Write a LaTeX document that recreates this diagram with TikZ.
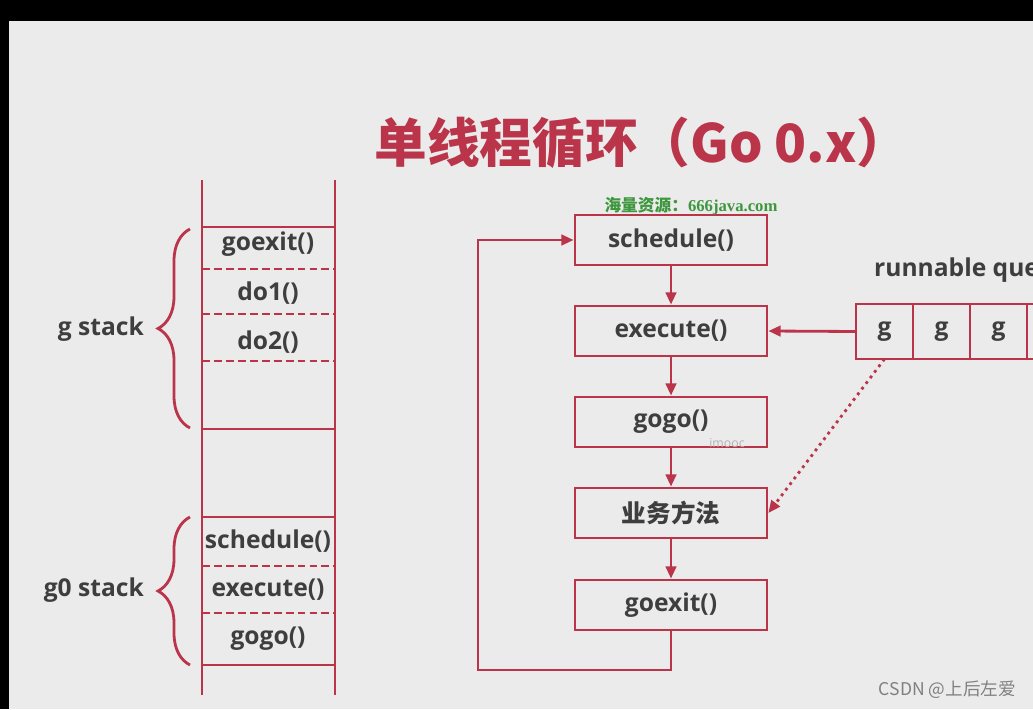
\documentclass[tikz,border=0pt]{standalone}
\usepackage{fontspec}
\setmainfont{Open Sans}
\newfontfamily\cjk{Noto Sans CJK SC}
\newfontfamily\wmserif{Liberation Serif}
\usetikzlibrary{arrows.meta,decorations.pathreplacing}

\definecolor{gored}{RGB}{186,52,74}
\definecolor{gotext}{RGB}{62,62,62}
\definecolor{gobg}{RGB}{235,235,235}
\definecolor{gogreen}{RGB}{62,150,62}

\tikzset{
  redline/.style={draw=gored, line width=1.6pt},
  flowbox/.style={redline, minimum width=3.84cm, minimum height=1cm, inner sep=0pt,
    font=\bfseries\fontsize{14}{16}\selectfont, text=gotext},
  qcell/.style={redline, minimum width=1.14cm, minimum height=1.1cm, inner sep=0pt,
    outer sep=0pt, font=\bfseries\fontsize{14}{16}\selectfont, text=gotext},
  stacktext/.style={font=\bfseries\fontsize{14}{16}\selectfont, text=gotext},
  stacksep/.style={draw=gored, line width=1.1pt, dash pattern=on 4.5pt off 2.3pt},
  arr/.style={redline, -{Triangle[length=7pt, width=6pt]}},
  stackbrace/.style={draw=gored, line width=1.6pt, decorate,
    decoration={brace, amplitude=0.64cm}},
}

\begin{document}
\begin{tikzpicture}[x=0.02cm, y=-0.02cm]
        % Pozadí
        \useasboundingbox (0,0) rectangle (1033,709);
        \clip (0,0) rectangle (1033,709);
        \fill[black] (0,0) rectangle (1033,709);
        \fill[gobg] (9,21) rectangle (1033,709);

        % Nadpis
        \node[text=gored, font=\cjk\bfseries\fontsize{30}{36}\selectfont] (title) at (642,143) {单线程循环（Go 0.x）};

        % Zásobník vlevo
        \draw[redline] (202,180) -- (202,695);
        \draw[redline] (335,180) -- (335,695);
        \foreach \y in {227,429,517,665}
            \draw[redline] (202,\y) -- (335,\y);
        \foreach \y in {269,314,361,566,613}
            \draw[stacksep] (202,\y) -- (335,\y);

        \node[stacktext] (sgoexit) at (268,244) {goexit()};
        \node[stacktext] (sdo1) at (268,293) {do1()};
        \node[stacktext] (sdo2) at (268,342) {do2()};
        \node[stacktext] (ssched) at (268,541) {schedule()};
        \node[stacktext] (sexec) at (268,590) {execute()};
        \node[stacktext] (sgogo) at (268,639) {gogo()};

        % Složené závorky
        \draw[stackbrace] (190,428) -- (190,229);
        \draw[stackbrace] (190,665) -- (190,517);
        \node[stacktext, anchor=east] (gstack) at (150,329) {g stack};
        \node[stacktext, anchor=east] (g0stack) at (150,590) {g0 stack};

        % Průběh smyčky
        \node[flowbox] (fsched) at (671,240) {schedule()};
        \node[flowbox] (fexec) at (671,331) {execute()};
        \node[flowbox] (fgogo) at (671,422) {gogo()};
        \node[flowbox, font=\cjk\bfseries\fontsize{14}{16}\selectfont] (fbiz) at (671,513) {业务方法};
        \node[flowbox] (fexit) at (671,605) {goexit()};

        \draw[arr] (fsched) -- (fexec);
        \draw[arr] (fexec) -- (fgogo);
        \draw[arr] (fgogo) -- (fbiz);
        \draw[arr] (fbiz) -- (fexit);

        \coordinate (loopcorner) at (478,670);
        \draw[arr] (fexit.south) |- (loopcorner) |- (fsched.west);

        % Fronta
        \node[anchor=west, font=\bfseries\fontsize{14}{16}\selectfont, text=gotext] (qtitle) at (868,270) {runnable queue};
        \node[qcell] (q1) at (884.5,331.5) {g};
        \node[qcell, anchor=west] (q2) at (q1.east) {g};
        \node[qcell, anchor=west] (q3) at (q2.east) {g};
        \node[qcell, anchor=west] (q4) at (q3.east) {};

        \draw[arr] (q1.west) -- (fexec.east);
        \draw[arr, dash pattern=on 1.6pt off 2.4pt] (q1.south) -- (fbiz.east);

        % Vodoznaky
        \node[text=gogreen, font=\fontsize{9.5}{11}\selectfont] (wm) at (691,206) {{\cjk\bfseries 海量资源：}{\wmserif\bfseries 666java.com}};
        \node[text=gray!60, font=\fontsize{7}{8}\selectfont] (imooc) at (727,443) {imooc};
        \node[text=gray, font=\cjk\fontsize{10}{12}\selectfont, anchor=east] (csdn) at (1022,690) {CSDN @上后左爱};
\end{tikzpicture}
\end{document}
